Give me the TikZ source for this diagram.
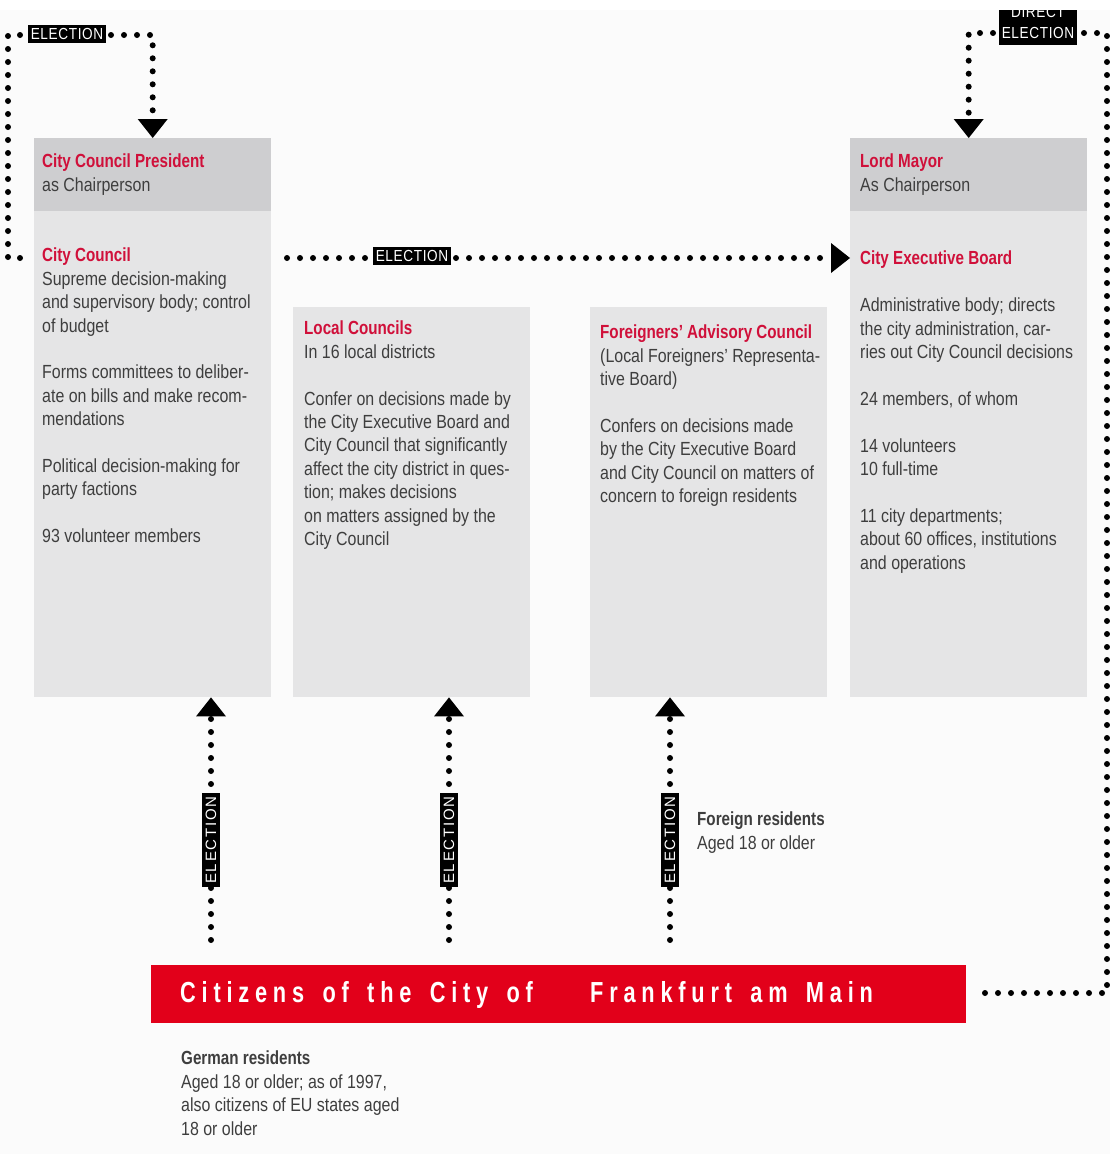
\documentclass[tikz,border=0pt]{standalone}
\usepackage{fontspec}
\usepackage{tikz}
\usetikzlibrary{arrows.meta,positioning}
\setmainfont{Liberation Sans}[FakeStretch=0.84,BoldFeatures={FakeStretch=0.8}]
\newfontfamily\labelfont{Liberation Sans}[FakeStretch=0.85,LetterSpace=4]
\newfontfamily\vlabelfont{Liberation Sans}[LetterSpace=12]
\newfontfamily\barfont{Liberation Sans Bold}[FakeStretch=0.75,LetterSpace=20,WordSpace=1.55]
\definecolor{hdred}{RGB}{208,16,58}
\definecolor{barred}{RGB}{226,0,26}
\definecolor{txtgray}{RGB}{62,62,62}
\definecolor{headgray}{RGB}{206,206,208}
\definecolor{bodygray}{RGB}{229,229,230}
\definecolor{bgcol}{RGB}{251,251,251}
\newcommand{\hd}[1]{{\bfseries\color{hdred}#1}}

\begin{document}
\begin{tikzpicture}[x=1pt,y=-1pt,
    headbox/.style={fill=headgray,anchor=north west,inner sep=0pt,minimum width=237pt,minimum height=73pt},
    bodybox/.style={fill=bodygray,anchor=north west,inner sep=0pt,minimum width=237pt},
    txt/.style={anchor=north west,inner sep=0pt,align=left,text=txtgray,font=\fontsize{19}{23.4}\selectfont},
    dots/.style={line width=6pt,line cap=round,dash pattern=on 0pt off 13pt},
    tip/.style={-{Triangle[width=30pt,length=19pt,line width=0pt]}},
    elbox/.style={fill=black,text=white,inner xsep=3pt,inner ysep=3pt,font=\labelfont\fontsize{16}{21}\selectfont},
    vlab/.style={fill=black,text=white,rotate=90,inner xsep=3pt,inner ysep=4pt,font=\vlabelfont\fontsize{15}{18}\selectfont},
    bartxt/.style={anchor=base west,inner sep=0pt,text=white,font=\barfont\fontsize{29}{34}\selectfont}]
            \useasboundingbox (0,0) rectangle (1110,1154);
            \fill[bgcol] (0,0) rectangle (1110,1154);

            % boxes
            \node[headbox] (cchead) at (34,138) {};
            \node[bodybox,minimum height=486pt] (ccbody) at (34,211) {};
            \node[bodybox,minimum height=390pt] (lcbody) at (293,307) {};
            \node[bodybox,minimum height=390pt] (fabody) at (590,307) {};
            \node[headbox] (lmhead) at (850,138) {};
            \node[bodybox,minimum height=486pt] (cebody) at (850,211) {};

            \node[txt] (cchtxt) at ([xshift=8pt,yshift=-16pt]cchead.north west) {\hd{City Council President}\\as Chairperson};
            \node[txt] (cctxt) at ([xshift=8pt,yshift=-37pt]ccbody.north west) {\hd{City Council}\\Supreme decision-making\\and supervisory body; control\\of budget\\[23.4pt]Forms committees to deliber-\\ate on bills and make recom-\\mendations\\[23.4pt]Political decision-making for\\party factions\\[23.4pt]93 volunteer members};
            \node[txt] (lctxt) at ([xshift=11pt,yshift=-14pt]lcbody.north west) {\hd{Local Councils}\\In 16 local districts\\[23.4pt]Confer on decisions made by\\the City Executive Board and\\City Council that significantly\\affect the city district in ques-\\tion; makes decisions\\on matters assigned by the\\City Council};
            \node[txt] (fatxt) at ([xshift=10pt,yshift=-18pt]fabody.north west) {\hd{Foreigners' Advisory Council}\\(Local Foreigners' Representa-\\tive Board)\\[23.4pt]Confers on decisions made\\by the City Executive Board\\and City Council on matters of\\concern to foreign residents};
            \node[txt] (lmtxt) at ([xshift=10pt,yshift=-16pt]lmhead.north west) {\hd{Lord Mayor}\\As Chairperson};
            \node[txt] (cetxt) at ([xshift=10pt,yshift=-40pt]cebody.north west) {\hd{City Executive Board}\\[23.4pt]Administrative body; directs\\the city administration, car-\\ries out City Council decisions\\[23.4pt]24 members, of whom\\[23.4pt]14 volunteers\\10 full-time\\[23.4pt]11 city departments;\\about 60 offices, institutions\\and operations};

            % citizens
            \node[fill=barred,anchor=north west,inner sep=0pt,minimum width=815pt,minimum height=58pt] (citizens) at (151,965) {};
            \node[bartxt] (city1) at (180,1002) {Citizens of the City of};
            \node[bartxt] (city2) at (590,1002) {Frankfurt am Main};
            \node[txt] (german) at (181,1051) {\textbf{German residents}\\Aged 18 or older; as of 1997,\\also citizens of EU states aged\\18 or older};
            \node[txt] (foreign) at (697,812) {\textbf{Foreign residents}\\Aged 18 or older};

            % election paths
            \coordinate (ccout) at (20,258);
            \coordinate (ltop) at (8,35);
            \draw[dots,tip] (ccout) -- (ltop |- ccout) -- (ltop) -- (cchead.north |- ltop) -- (cchead.north);
            \node[elbox] (el1) at (67,34) {ELECTION};

            \coordinate (hstart) at (287,258);
            \draw[dots,tip] (hstart) -- (cebody.west |- hstart);
            \node[elbox] (el2) at (412,256) {ELECTION};

            \coordinate (barout) at (985,993);
            \coordinate (rtop) at (1107,33);
            \draw[dots,tip] (barout) -- (rtop |- barout) -- (rtop) -- (lmhead.north |- rtop) -- (lmhead.north);
            \node[elbox,align=center,anchor=south,inner ysep=6pt] (el3) at (1038,45) {DIRECT\\ELECTION};

            \coordinate (v1) at (211,940);
            \coordinate (v2) at (449,940);
            \coordinate (v3) at (670,940);
            \draw[dots,tip] (v1) -- (v1 |- ccbody.south);
            \draw[dots,tip] (v2) -- (v2 |- lcbody.south);
            \draw[dots,tip] (v3) -- (v3 |- fabody.south);
            \node[vlab] (el4) at (211,840) {ELECTION};
            \node[vlab] (el5) at (449,840) {ELECTION};
            \node[vlab] (el6) at (670,840) {ELECTION};

            % top margin cuts the label
            \fill[white] (0,0) rectangle (1110,10);
        \end{tikzpicture}
\end{document}
